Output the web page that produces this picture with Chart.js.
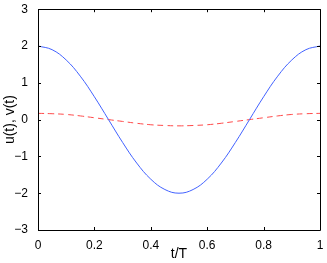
<!DOCTYPE html>
<html>
<head>
<meta charset="utf-8">
<script src="https://cdn.jsdelivr.net/npm/chart.js@4"></script>
<style>
  html, body { margin: 0; padding: 0; background: #fff; }
  #wrap { width: 327px; height: 263px; }
</style>
</head>
<body>
<div id="wrap"><canvas id="c" width="327" height="263"></canvas></div>
<script>
// valeurs
const tVals = [0, 0.05, 0.1, 0.15, 0.2, 0.25, 0.3, 0.35, 0.4, 0.45, 0.5,
               0.55, 0.6, 0.65, 0.7, 0.75, 0.8, 0.85, 0.9, 0.95, 1];
const uVals = [2, 1.9, 1.62, 1.18, 0.62, 0, -0.62, -1.18, -1.62, -1.9, -2,
               -1.9, -1.62, -1.18, -0.62, 0, 0.62, 1.18, 1.62, 1.9, 2];
const vVals = [0.17, 0.16, 0.14, 0.1, 0.05, 0, -0.05, -0.1, -0.14, -0.16, -0.17,
               -0.16, -0.14, -0.1, -0.05, 0, 0.05, 0.1, 0.14, 0.16, 0.17];
const xTicks = [0, 0.2, 0.4, 0.6, 0.8, 1];
const yTicks = [-3, -2, -1, 0, 1, 2, 3];

const police = 'Liberation Sans, Arial, sans-serif';

// cadre + graduations vers l'intérieur, comme sous matlab
const cadre = {
    id: 'cadre',
    afterDatasetsDraw(chart) {
        const ctx = chart.ctx;
        const a = chart.chartArea;
        const sx = chart.scales.x, sy = chart.scales.y;
        const L = 3;
        ctx.save();
        ctx.strokeStyle = '#000';
        ctx.lineWidth = 1;
        ctx.beginPath();
        xTicks.forEach(v => {
            const px = Math.round(sx.getPixelForValue(v)) + 0.5;
            ctx.moveTo(px, a.bottom); ctx.lineTo(px, a.bottom - L);
            ctx.moveTo(px, a.top); ctx.lineTo(px, a.top + L);
        });
        yTicks.forEach(v => {
            const py = Math.round(sy.getPixelForValue(v)) + 0.5;
            ctx.moveTo(a.left, py); ctx.lineTo(a.left + L, py);
            ctx.moveTo(a.right, py); ctx.lineTo(a.right - L, py);
        });
        ctx.stroke();
        ctx.beginPath();
        ctx.rect(Math.round(a.left) + 0.5, Math.round(a.top) + 0.5,
                 Math.round(a.right - a.left), Math.round(a.bottom - a.top));
        ctx.stroke();
        ctx.restore();
    }
};

new Chart(document.getElementById('c'), {
    type: 'line',
    data: {
        datasets: [{
            label: 'u',
            data: tVals.map((t, i) => ({ x: t, y: uVals[i] })),
            borderColor: '#4262ff',
            borderWidth: 1,
            pointRadius: 0,
            tension: 0.4
        }, {
            label: 'v',
            data: tVals.map((t, i) => ({ x: t, y: vVals[i] })),
            borderColor: '#ff4a4a',
            borderWidth: 1,
            borderDash: [6, 4],
            pointRadius: 0,
            tension: 0.4
        }]
    },
    options: {
        responsive: false,
        animation: false,
        layout: { padding: { top: 9, right: 7, left: 0, bottom: 0 } },
        plugins: { legend: { display: false }, tooltip: { enabled: false } },
        scales: {
            x: {
                type: 'linear', min: 0, max: 1,
                afterBuildTicks: s => { s.ticks = xTicks.map(v => ({ value: v })); },
                afterFit: s => { s.height = 33; },
                grid: { display: false },
                border: { display: false },
                ticks: {
                    color: '#000', font: { family: police, size: 12 }, padding: 0, maxRotation: 0,
                    callback: v => String(v)
                },
                title: { display: true, text: 't/T', color: '#000', font: { family: police, size: 14 }, padding: 0 }
            },
            y: {
                min: -3, max: 3,
                afterBuildTicks: s => { s.ticks = yTicks.map(v => ({ value: v })); },
                afterFit: s => { s.width = 38; },
                grid: { display: false },
                border: { display: false },
                ticks: {
                    color: '#000', font: { family: police, size: 12 }, padding: 2,
                    callback: v => String(v).replace('-', '\u2212')
                },
                title: { display: true, text: 'u(t), v(t)', color: '#000', font: { family: police, size: 14 }, padding: { top: 2, bottom: 0 } }
            }
        }
    },
    plugins: [cadre]
});
</script>
</body>
</html>
